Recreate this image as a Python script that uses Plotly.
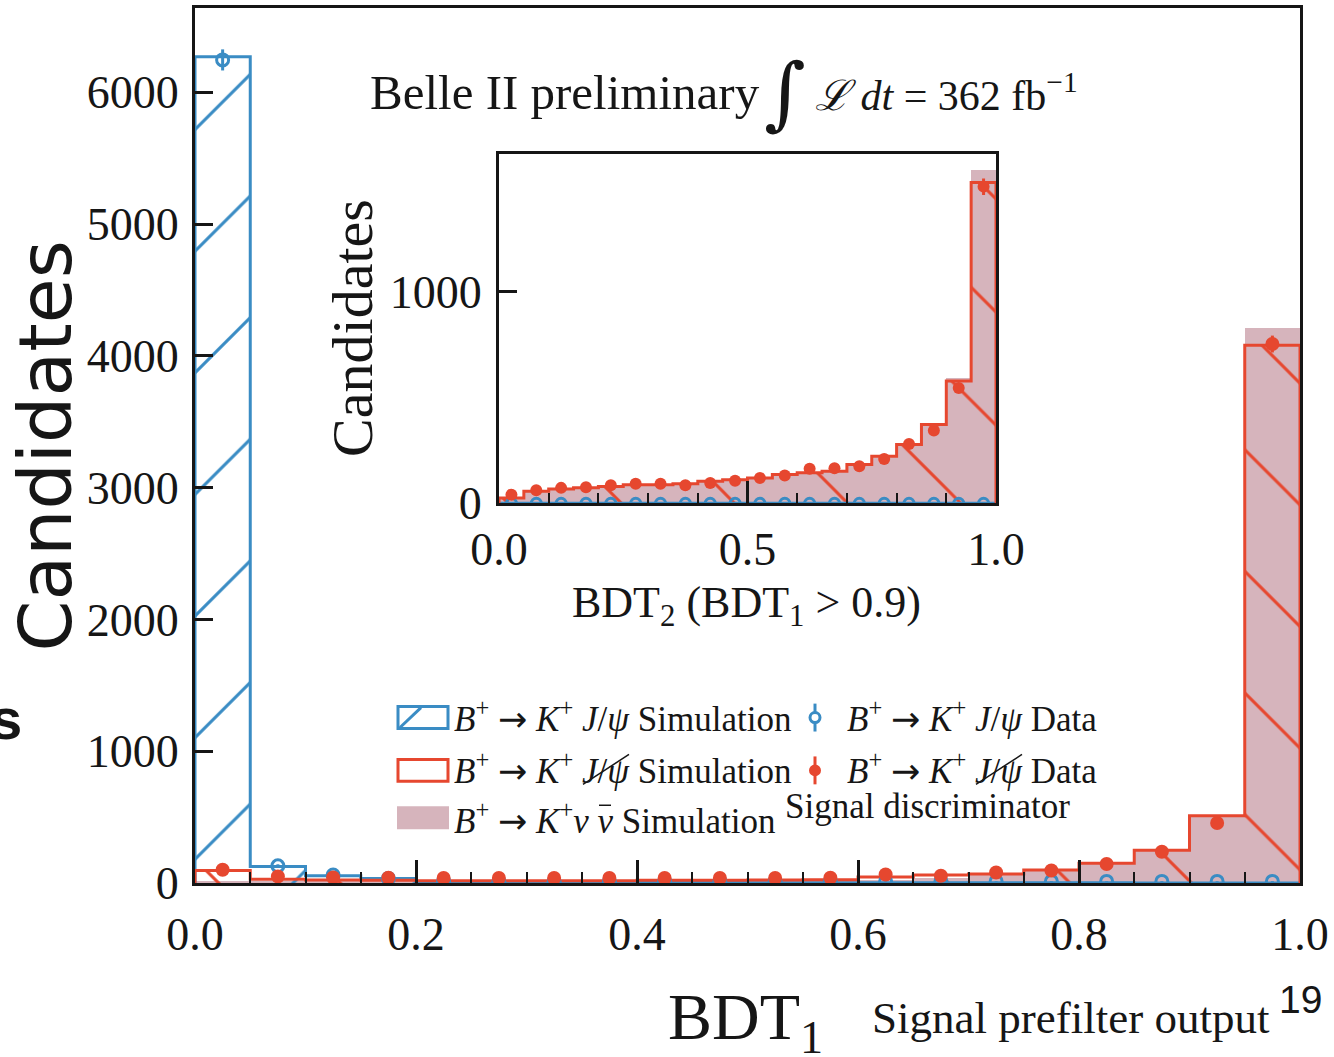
import plotly.graph_objects as go

# ---------------- data ----------------
bin_edges = [0.00, 0.05, 0.10, 0.15, 0.20, 0.25, 0.30, 0.35, 0.40, 0.45, 0.50,
             0.55, 0.60, 0.65, 0.70, 0.75, 0.80, 0.85, 0.90, 0.95, 1.00]
bin_centers = [0.025, 0.075, 0.125, 0.175, 0.225, 0.275, 0.325, 0.375, 0.425, 0.475,
               0.525, 0.575, 0.625, 0.675, 0.725, 0.775, 0.825, 0.875, 0.925, 0.975]

# main panel: BDT1
jpsi_sim_bdt1 = [6270, 125, 55, 35, 10, 7, 5, 4, 3, 3, 2, 2, 2, 1, 1, 1, 1, 0, 0, 0]
jpsi_data_bdt1 = [6246, 130, 60, 35, 14, 12, 12, 12, 12, 12, 12, 12, 12, 12, 12, 12, 12, 12, 12, 12]
jpsi_data_err_bdt1 = [80, 12, 8, 6, 4, 3, 3, 3, 3, 3, 3, 3, 3, 3, 3, 3, 3, 3, 3, 3]
veto_sim_bdt1 = [95, 28, 22, 20, 18, 18, 18, 18, 20, 20, 22, 24, 45, 60, 68, 98, 149, 249, 510, 4080]
veto_data_bdt1 = [100, 50, 42, 40, 38, 38, 38, 38, 38, 38, 38, 40, 65, 55, 80, 95, 144, 237, 455, 4090]
veto_data_err_bdt1 = [10, 7, 6, 6, 6, 6, 6, 6, 6, 6, 6, 6, 8, 7, 9, 10, 12, 15, 21, 64]
nunu_sim_bdt1 = [15, 10, 10, 10, 10, 10, 10, 10, 12, 12, 14, 16, 25, 40, 65, 95, 145, 245, 515, 4215]

# inset: BDT2 (BDT1 > 0.9)
jpsi_sim_bdt2 = [0, 0, 0, 0, 0, 0, 0, 0, 0, 0, 0, 0, 0, 0, 0, 0, 0, 0, 0, 0]
jpsi_data_bdt2 = [0, 0, 0, 0, 0, 0, 0, 0, 0, 0, 0, 0, 0, 0, 0, 0, 0, 0, 0, 0]
veto_sim_bdt2 = [25, 57, 68, 73, 80, 88, 88, 92, 104, 112, 120, 136, 144, 152, 183, 223, 278, 373, 578, 1518]
veto_data_bdt2 = [41, 62, 73, 76, 85, 92, 92, 85, 96, 107, 120, 131, 163, 166, 175, 210, 281, 344, 545, 1498]
veto_data_err_bdt2 = [6, 8, 9, 9, 9, 10, 10, 9, 10, 10, 11, 11, 13, 13, 13, 14, 17, 19, 23, 39]
nunu_sim_bdt2 = [20, 50, 62, 70, 78, 85, 86, 90, 100, 110, 118, 133, 142, 150, 180, 220, 276, 375, 591, 1573]

main_yticks = [0, 1000, 2000, 3000, 4000, 5000, 6000]
inset_yticks = [0, 1000]

# ---------------- style ----------------
BLUE = "#3a8cc4"
RED = "#e6472f"
PINK = "#d6b4bc"
INK = "#161616"
SERIF = "Liberation Serif"

W, H = 1334, 1057
L, R, T, B = 195, 1300, 5, 883


def px(x):
    return (x - L) / (R - L)


def py(y):
    return (B - y) / (B - T)


def step_xy(edges, vals):
    xs = [edges[0]] + list(edges) + [edges[-1]]
    ys = [0] + list(vals) + [vals[-1], 0]
    return xs, ys


fig = go.Figure()


def add_panel(xa, ya, nunu, veto_sim, jpsi_sim, veto_data, veto_err, jpsi_data, jpsi_err,
              hatch_size, msize):
    fig.add_trace(go.Bar(x=bin_centers, y=nunu, width=0.05, xaxis=xa, yaxis=ya,
                         marker=dict(color=PINK, line=dict(width=0)), showlegend=False))
    fig.add_trace(go.Bar(x=bin_centers, y=veto_sim, width=0.05, xaxis=xa, yaxis=ya,
                         marker=dict(color=RED, line=dict(width=0),
                                     pattern=dict(shape="\\", size=hatch_size, solidity=3.0 / hatch_size,
                                                  fgcolor=RED, fillmode="replace")),
                         showlegend=False))
    if max(jpsi_sim) > 0:
        fig.add_trace(go.Bar(x=bin_centers, y=jpsi_sim, width=0.05, xaxis=xa, yaxis=ya,
                             marker=dict(color=BLUE, line=dict(width=0),
                                         pattern=dict(shape="/", size=hatch_size, solidity=3.0 / hatch_size,
                                                      fgcolor=BLUE, fillmode="replace")),
                             showlegend=False))
    sx, sy = step_xy(bin_edges, jpsi_sim)
    fig.add_trace(go.Scatter(x=sx, y=sy, mode="lines", line=dict(color=BLUE, width=3, shape="hv"),
                             xaxis=xa, yaxis=ya, showlegend=False))
    sx, sy = step_xy(bin_edges, veto_sim)
    fig.add_trace(go.Scatter(x=sx, y=sy, mode="lines", line=dict(color=RED, width=3, shape="hv"),
                             xaxis=xa, yaxis=ya, showlegend=False))
    fig.add_trace(go.Scatter(x=bin_centers, y=jpsi_data, mode="markers", xaxis=xa, yaxis=ya,
                             marker=dict(symbol="circle-open", size=msize - 2, color=BLUE,
                                         line=dict(width=3, color=BLUE)),
                             error_y=dict(type="data", array=jpsi_err, color=BLUE, thickness=3, width=0),
                             showlegend=False))
    fig.add_trace(go.Scatter(x=bin_centers, y=veto_data, mode="markers", xaxis=xa, yaxis=ya,
                             marker=dict(symbol="circle", size=msize, color=RED),
                             error_y=dict(type="data", array=veto_err, color=RED, thickness=3, width=0),
                             showlegend=False))


add_panel("x", "y", nunu_sim_bdt1, veto_sim_bdt1, jpsi_sim_bdt1, veto_data_bdt1, veto_data_err_bdt1,
          jpsi_data_bdt1, jpsi_data_err_bdt1, 86, 14)
jpsi_err_bdt2 = [0] * len(jpsi_data_bdt2)
add_panel("x2", "y2", nunu_sim_bdt2, veto_sim_bdt2, jpsi_sim_bdt2, veto_data_bdt2, veto_data_err_bdt2,
          jpsi_data_bdt2, jpsi_err_bdt2, 80, 12)

axis_common = dict(showline=True, mirror=True, linewidth=3, linecolor=INK, showgrid=False,
                   zeroline=False, ticks="inside", tickcolor=INK, tickwidth=2.5,
                   tickfont=dict(family=SERIF, size=46, color=INK))

fig.update_layout(
    width=W, height=H, autosize=False,
    margin=dict(l=L, r=W - R, t=T, b=H - B, pad=0),
    paper_bgcolor="white", plot_bgcolor="white",
    barmode="overlay", bargap=0, showlegend=False,
    xaxis=dict(domain=[0, 1], range=[0, 1], anchor="y", dtick=0.2, tick0=0, tickformat=".1f",
               ticklen=23, ticklabelstandoff=9,
               minor=dict(dtick=0.05, ticks="inside", ticklen=11, tickwidth=2, tickcolor=INK),
               **axis_common),
    yaxis=dict(domain=[0, 1], range=[0, 6640], anchor="x", tickvals=main_yticks,
               ticklen=18, ticklabelstandoff=4, **axis_common),
    xaxis2=dict(domain=[px(499), px(996)], range=[0, 1], anchor="y2", dtick=0.5, tick0=0,
                tickformat=".1f", ticklen=22, ticklabelstandoff=3,
                minor=dict(dtick=0.1, ticks="inside", ticklen=10, tickwidth=2, tickcolor=INK),
                **axis_common),
    yaxis2=dict(domain=[py(502), py(152)], range=[0, 1650], anchor="x2", tickvals=inset_yticks,
                ticklen=18, ticklabelstandoff=5, **axis_common),
)

ann = []


def text(x, y, s, size, family=SERIF, xanchor="left", yanchor="middle", angle=0, color=INK):
    ann.append(dict(x=px(x), y=py(y), xref="paper", yref="paper", text=s, showarrow=False,
                    xanchor=xanchor, yanchor=yanchor, textangle=angle,
                    font=dict(family=family, size=size, color=color)))


# titles
text(45, 445, "Candidates", 73, family="DejaVu Sans", xanchor="center", angle=-90)
text(353, 326, "Candidates", 58, xanchor="center", angle=-90)
text(746, 605, "BDT<sub>2</sub> (BDT<sub>1</sub> &gt; 0.9)", 44, xanchor="center")
text(745, 1022, "BDT<sub>1</sub>", 66, xanchor="center")
text(368, 90, "Belle II preliminary", 49)
text(785, 90, "∫", 80, family="DejaVu Serif", xanchor="center")
text(813, 90, "<i>ℒ dt</i> = 362 fb<sup>−1</sup>", 42)

# overlay slide texts
text(870, 1018, "Signal prefilter output", 45)
text(1277, 1000, "19", 39, family="Liberation Sans")
text(783, 806, "Signal discriminator", 35)
text(24, 718, "<b>s</b>", 58, family="Liberation Sans", xanchor="right")

# legend
LEG = 35
ARROW = '<span style="font-family:DejaVu Sans">→</span>'
BK = "<i>B</i><sup>+</sup> " + ARROW + " <i>K</i><sup>+</sup>"
text(452, 716, BK + " <i>J</i>/<i>ψ</i> Simulation", LEG)
text(452, 768, BK + " <i>J</i>/<i>ψ</i> Simulation", LEG)
text(452, 818, BK + "<i>ν ν</i> Simulation", LEG)
text(845, 716, BK + " <i>J</i>/<i>ψ</i> Data", LEG)
text(845, 768, BK + " <i>J</i>/<i>ψ</i> Data", LEG)

shapes = []


def rect(x0, y0, x1, y1, line=None, fill=None, lw=3):
    shapes.append(dict(type="rect", xref="paper", yref="paper", x0=px(x0), x1=px(x1), y0=py(y1), y1=py(y0),
                       line=dict(color=line or "rgba(0,0,0,0)", width=lw if line else 0),
                       fillcolor=fill or "rgba(0,0,0,0)", layer="above"))


def seg(x0, y0, x1, y1, color, lw=3):
    shapes.append(dict(type="line", xref="paper", yref="paper", x0=px(x0), x1=px(x1), y0=py(y0), y1=py(y1),
                       line=dict(color=color, width=lw), layer="above"))


rect(398, 706, 448, 728, line=BLUE)
seg(400, 727, 421, 707, BLUE)
rect(398, 759, 448, 781, line=RED)
rect(397, 806, 449, 829, fill=PINK)
# slashes through J/psi
seg(583, 784, 629, 754, INK, lw=1.5)
seg(976, 784, 1022, 754, INK, lw=1.5)
# macron over the second nu
seg(599, 805, 611, 805, INK, lw=1.5)
# legend data symbols
seg(815, 703, 815, 731, BLUE)
shapes.append(dict(type="circle", xref="paper", yref="paper", x0=px(810), x1=px(820), y0=py(722), y1=py(712),
                   line=dict(color=BLUE, width=3), fillcolor="white", layer="above"))
seg(815, 756, 815, 784, RED)
shapes.append(dict(type="circle", xref="paper", yref="paper", x0=px(809), x1=px(821), y0=py(776), y1=py(764),
                   line=dict(color=RED, width=0), fillcolor=RED, layer="above"))

fig.update_layout(annotations=ann, shapes=shapes)
fig.write_html("out.html")
